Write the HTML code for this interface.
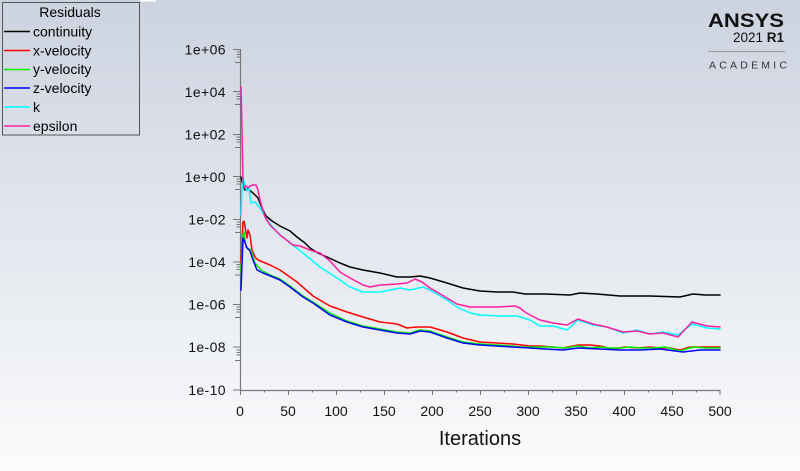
<!DOCTYPE html>
<html><head><meta charset="utf-8"><style>
html,body{margin:0;padding:0;}
body{width:800px;height:471px;overflow:hidden;background:linear-gradient(to bottom,#ccd3e0 0%,#d8dde7 25%,#e3e7ee 50%,#edf0f4 72%,#fcfcfd 100%);font-family:"Liberation Sans",Arial,sans-serif;}
svg{position:absolute;left:0;top:0;}
</style></head><body>
<svg width="800" height="471" viewBox="0 0 800 471" xmlns="http://www.w3.org/2000/svg" font-family="Liberation Sans, Arial, sans-serif">
<rect x="140" y="0" width="16" height="1.5" fill="#ffffff"/>
<!-- Legend -->
<rect x="2.5" y="2.5" width="137" height="132.5" fill="none" stroke="#555" stroke-width="1"/>
<text x="70" y="17" font-size="14" text-anchor="middle" fill="#000">Residuals</text>
<g stroke-width="1.6">
<line x1="4" y1="31.5" x2="30" y2="31.5" stroke="#000"/>
<line x1="4" y1="50.5" x2="30" y2="50.5" stroke="#ff0000"/>
<line x1="4" y1="69.5" x2="30" y2="69.5" stroke="#00ee00"/>
<line x1="4" y1="88" x2="30" y2="88" stroke="#0000ff"/>
<line x1="4" y1="107" x2="30" y2="107" stroke="#00ffff"/>
<line x1="4" y1="126" x2="30" y2="126" stroke="#ff1fa0"/>
</g>
<g font-size="14" fill="#000">
<text x="33" y="36.5">continuity</text>
<text x="33" y="55.5">x-velocity</text>
<text x="33" y="74">y-velocity</text>
<text x="33" y="93">z-velocity</text>
<text x="33" y="112">k</text>
<text x="33" y="131">epsilon</text>
</g>
<!-- Logo -->
<text x="708" y="27" font-size="19" font-weight="bold" fill="#111" textLength="76" lengthAdjust="spacingAndGlyphs">ANSYS</text>
<text x="784" y="42" font-size="13.5" fill="#111" text-anchor="end"><tspan>2021 </tspan><tspan font-weight="bold">R1</tspan></text>
<line x1="708" y1="51.5" x2="785" y2="51.5" stroke="#9a9a9a" stroke-width="1"/>
<text x="709" y="68.3" font-size="10.5" fill="#333" textLength="78" lengthAdjust="spacing">ACADEMIC</text>
<!-- Axes -->
<g stroke="#777" stroke-width="1.2" fill="none">
<line x1="240.5" y1="49" x2="240.5" y2="390.5"/>
<line x1="240" y1="390.5" x2="720.5" y2="390.5"/>
</g>
<g stroke="#777" stroke-width="1">
<!-- y major ticks -->
<line x1="233" y1="49.5" x2="240" y2="49.5"/>
<line x1="233" y1="91.5" x2="240" y2="91.5"/>
<line x1="233" y1="134.5" x2="240" y2="134.5"/>
<line x1="233" y1="176.5" x2="240" y2="176.5"/>
<line x1="233" y1="219.5" x2="240" y2="219.5"/>
<line x1="233" y1="262" x2="240" y2="262"/>
<line x1="233" y1="304.5" x2="240" y2="304.5"/>
<line x1="233" y1="347" x2="240" y2="347"/>
<line x1="233" y1="390" x2="240" y2="390"/>
</g>
<g stroke="#777" stroke-width="1" id="minors">
<path d="M236.5 52h4M236.5 54.5h4M236.5 57h4M235 62.5h5
M236.5 94h4M236.5 96.5h4M236.5 99h4M235 104.5h5
M236.5 137h4M236.5 139.5h4M236.5 142h4M235 147.5h5
M236.5 179h4M236.5 181.5h4M236.5 184h4M235 189.5h5
M236.5 222h4M236.5 224.5h4M236.5 227h4M235 232.5h5
M236.5 264.5h4M236.5 267h4M236.5 269.5h4M235 275h5
M236.5 307h4M236.5 309.5h4M236.5 312h4M235 317.5h5
M236.5 350h4M236.5 352.5h4M236.5 355h4M235 360.5h5"/>
</g>
<g stroke="#777" stroke-width="1">
<path d="M240.5 390v5M288.5 390v5M336.5 390v5M384.5 390v5M432.5 390v5M480.5 390v5M528.5 390v5M576.5 390v5M624.5 390v5M672.5 390v5M720 390v5
M264.5 390v2.5M312.5 390v2.5M360.5 390v2.5M408.5 390v2.5M456.5 390v2.5M504.5 390v2.5M552.5 390v2.5M600.5 390v2.5M648.5 390v2.5M696.5 390v2.5"/>
</g>
<g font-size="14" fill="#111" text-anchor="end" letter-spacing="0.4">
<text x="226" y="54.5">1e+06</text>
<text x="226" y="97">1e+04</text>
<text x="226" y="139.5">1e+02</text>
<text x="226" y="182">1e+00</text>
<text x="226" y="224.5">1e-02</text>
<text x="226" y="267">1e-04</text>
<text x="226" y="309.5">1e-06</text>
<text x="226" y="352">1e-08</text>
<text x="226" y="395">1e-10</text>
</g>
<g font-size="14" fill="#111" text-anchor="middle">
<text x="240" y="416">0</text>
<text x="288" y="416">50</text>
<text x="336" y="416">100</text>
<text x="384" y="416">150</text>
<text x="432" y="416">200</text>
<text x="480" y="416">250</text>
<text x="528" y="416">300</text>
<text x="576" y="416">350</text>
<text x="624" y="416">400</text>
<text x="672" y="416">450</text>
<text x="720" y="416">500</text>
</g>
<text x="480" y="445" font-size="20" fill="#111" text-anchor="middle">Iterations</text>
<!-- Series -->
<g fill="none" stroke-width="1.5" stroke-linejoin="round" stroke-linecap="round">
<polyline stroke="#000" points="241,177 243,186 245,190 248,189 253,193 258,198 262,208 266,216 272,221 280,226 290,231 297,237 305,243 310,248 318,253 327,257 340,263 350,267 363,270 380,273 397,277 410,277 420,276 430,278 447,283 463,288 480,291 497,292 513,292 525,294 545,294 570,295 580,293 597,294 620,296 650,296 680,297 693,294 705,295 720,295"/>
<polyline stroke="#ff0000" points="241,262 243,222 244,221 246,232 247,238 248,230 250,235 252,250 255,257 258,260 263,262 270,265 280,270 297,282 313,296 330,306 347,312 363,317 380,322 397,324 407,328 417,327 430,327 447,332 463,338 480,342 497,343 513,344 530,346 540,346 552,347 563,348 578,345 590,345 600,346 613,349 625,347 637,348 650,347 660,348 670,348 680,350 690,347 705,347 720,347"/>
<polyline stroke="#00ee00" points="241,272 243,235 244,232 246,247 249,249 251,250 255,263 261,270 270,275 280,279 290,286 303,296 313,302 330,313 347,321 363,326 380,329 397,332 410,333 420,330 430,331 447,337 463,342 480,344 513,346 520,347 540,347 553,347 565,348 578,346 590,348 600,347 610,348 620,348 630,347 640,348 653,348 665,347 680,351 693,347 705,348 720,348"/>
<polyline stroke="#0000ff" points="241,290 243,238 244,240 247,248 250,251 253,260 257,270 263,273 273,277 280,280 290,287 303,297 313,303 330,315 347,322 363,327 380,330 397,333 410,334 420,331 430,332 447,338 463,343 480,345 513,347 530,348 545,349 563,350 578,348 600,349 620,350 640,350 660,349 683,352 700,350 720,350"/>
<polyline stroke="#00ffff" points="241,215 242,190 243,177 245,186 247,191 249,188 250,195 251,203 255,202 260,208 267,220 277,232 290,243 303,253 320,267 337,278 350,287 363,292 380,292 390,290 400,288 410,290 423,287 430,290 447,300 457,307 470,313 480,315 500,316 517,316 520,317 530,320 540,326 553,326 567,330 578,320 593,325 607,327 623,333 637,330 650,334 663,332 678,335 692,324 707,328 720,329"/>
<polyline stroke="#ff1fa0" points="241,87 242,130 243,180 244,188 246,186 248,188 250,186 253,185 256,185 258,190 260,200 262,207 265,217 270,225 280,235 293,245 300,246 310,250 320,253 330,261 340,272 350,278 363,285 370,287 380,285 397,284 407,283 415,279 422,282 430,288 447,298 457,304 470,307 497,307 515,306 520,308 525,312 530,315 540,320 553,323 567,325 578,319 593,324 607,327 623,332 637,331 650,334 663,333 678,337 692,322 707,326 720,327"/>
</g>
</svg>
</body></html>
